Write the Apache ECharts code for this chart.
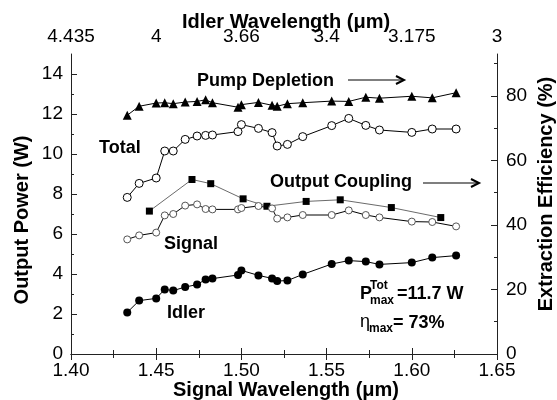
<!DOCTYPE html>
<html>
<head>
<meta charset="utf-8">
<script src="https://cdn.jsdelivr.net/npm/echarts@6/dist/echarts.min.js"></script>
<style>
  html, body { margin: 0; padding: 0; background: #fff; }
  #chart { width: 557px; height: 400px; }
</style>
</head>
<body>
<div id="chart"></div>
<script>
// Signal wavelength (um) for every measured point
const wavelength = [1.433, 1.440, 1.450, 1.455, 1.460, 1.467, 1.474, 1.479, 1.483, 1.498, 1.500,
  1.510, 1.518, 1.521, 1.527, 1.536, 1.553, 1.563, 1.573, 1.581, 1.600, 1.612, 1.626];

// Output powers (W), left axis
const totalPower  = [7.83, 8.53, 8.80, 10.15, 10.15, 10.73, 10.90, 10.93, 10.95, 11.12, 11.47,
  11.28, 11.07, 10.40, 10.48, 10.87, 11.42, 11.78, 11.43, 11.20, 11.08, 11.25, 11.25];
const signalPower = [5.73, 5.93, 6.07, 6.93, 7.00, 7.42, 7.48, 7.25, 7.23, 7.23, 7.30,
  7.40, 7.28, 6.77, 6.83, 6.95, 6.95, 7.18, 6.95, 6.83, 6.62, 6.60, 6.38];
const idlerPower  = [2.08, 2.67, 2.78, 3.23, 3.17, 3.35, 3.47, 3.73, 3.77, 3.95, 4.18,
  3.93, 3.78, 3.65, 3.67, 3.98, 4.50, 4.67, 4.62, 4.48, 4.57, 4.82, 4.92];

// Pump depletion (%), right axis
const pumpDepletion = [74.0, 76.8, 77.8, 77.9, 77.6, 78.1, 78.3, 78.8, 77.9, 76.5, 77.3,
  78.0, 77.1, 76.8, 77.6, 77.9, 78.4, 78.3, 79.6, 79.3, 79.9, 79.4, 81.0];

// Output coupling (%), right axis, measured on its own wavelengths
const couplingWavelength = [1.446, 1.471, 1.482, 1.501, 1.515, 1.538, 1.558, 1.588, 1.617];
const couplingEff = [44.3, 54.1, 52.8, 48.1, 45.8, 47.3, 47.8, 45.4, 42.3];

// Axis ticks
const signalTicks = [1.40, 1.45, 1.50, 1.55, 1.60, 1.65];
const idlerTickLabels = ['4.435', '4', '3.66', '3.4', '3.175', '3'];
const powerTicks = [0, 2, 4, 6, 8, 10, 12, 14];
const powerMinor = [1, 3, 5, 7, 9, 11, 13];
const effTicks = [0, 20, 40, 60, 80];
const effMinor = [10, 30, 50, 70, 90];

const FONT = '"Liberation Sans", Arial, sans-serif';
const INK = '#000';

const zip = (xs, ys) => xs.map((x, i) => [x, ys[i]]);

const chart = echarts.init(document.getElementById('chart'), null, { renderer: 'canvas' });

const axisLine = { show: true, lineStyle: { color: '#222', width: 1 } };
const tickLabel = { color: INK, fontFamily: FONT, fontSize: 19 };

const xBase = {
  type: 'value', min: 1.40, max: 1.65, interval: 0.05,
  axisLine,
  axisTick: { inside: true, length: 6, lineStyle: { color: '#222' } },
  minorTick: { show: true, splitNumber: 2, length: 4, lineStyle: { color: '#222' } },
  splitLine: { show: false }, minorSplitLine: { show: false },
};

const yMain = (pos, max, ticks, margin) => ({
  type: 'value', position: pos, min: 0, max,
  axisLine,
  axisTick: { inside: true, length: 6, customValues: ticks, lineStyle: { color: '#222' } },
  axisLabel: { ...tickLabel, margin, customValues: ticks },
  splitLine: { show: false },
});
const yMinor = (pos, max, ticks) => ({
  type: 'value', position: pos, min: 0, max,
  axisLine: { show: false },
  axisTick: { inside: true, length: 3, customValues: ticks, lineStyle: { color: '#222' } },
  axisLabel: { show: false },
  splitLine: { show: false },
});

const text = (str, x, y, extra = {}) => ({
  type: 'text', x, y, ...extra.el,
  style: { text: str, fill: INK, font: extra.font || `bold 18px ${FONT}`,
           align: extra.align || 'left', verticalAlign: 'middle' },
});
const arrow = (x1, x2, y) => ([
  { type: 'line', shape: { x1, y1: y, x2: x2 - 1, y2: y }, style: { stroke: INK, lineWidth: 1.2 } },
  { type: 'polyline', shape: { points: [[x2 - 8, y - 4], [x2, y], [x2 - 8, y + 4]] },
    style: { stroke: INK, lineWidth: 2, fill: null } },
]);

chart.setOption({
  animation: false,
  backgroundColor: '#fff',
  grid: { left: 71, right: 60, top: 54, bottom: 46 },
  xAxis: [
    { ...xBase, position: 'bottom',
      axisLabel: { ...tickLabel, margin: 7, formatter: (v) => v.toFixed(2) } },
    { ...xBase, position: 'top',
      axisLabel: { ...tickLabel, margin: 8, formatter: (v) => {
        const i = signalTicks.findIndex(t => Math.abs(t - v) < 1e-6);
        return i >= 0 ? idlerTickLabels[i] : '';
      } } },
  ],
  yAxis: [
    yMain('left', 15, powerTicks, 8),
    yMinor('left', 15, powerMinor),
    yMain('right', 93, effTicks, 9),
    yMinor('right', 93, effMinor),
  ],
  series: [
    { name: 'Pump Depletion', type: 'line', xAxisIndex: 0, yAxisIndex: 2,
      data: zip(wavelength, pumpDepletion),
      symbol: 'triangle', symbolSize: 9, itemStyle: { color: INK },
      lineStyle: { color: INK, width: 1 } },
    { name: 'Output Coupling', type: 'line', xAxisIndex: 0, yAxisIndex: 2,
      data: zip(couplingWavelength, couplingEff),
      symbol: 'rect', symbolSize: 7, itemStyle: { color: INK },
      lineStyle: { color: '#444', width: 0.8 } },
    { name: 'Total', type: 'line', xAxisIndex: 0, yAxisIndex: 0,
      data: zip(wavelength, totalPower),
      symbol: 'circle', symbolSize: 8,
      itemStyle: { color: '#fff', borderColor: INK, borderWidth: 1 },
      lineStyle: { color: INK, width: 1 } },
    { name: 'Signal', type: 'line', xAxisIndex: 0, yAxisIndex: 0,
      data: zip(wavelength, signalPower),
      symbol: 'circle', symbolSize: 7,
      itemStyle: { color: '#fff', borderColor: '#555', borderWidth: 1 },
      lineStyle: { color: INK, width: 1 } },
    { name: 'Idler', type: 'line', xAxisIndex: 0, yAxisIndex: 0,
      data: zip(wavelength, idlerPower),
      symbol: 'circle', symbolSize: 8, itemStyle: { color: INK },
      lineStyle: { color: INK, width: 1 } },
  ],
  graphic: [
    // axis titles
    text('Idler Wavelength (\u03bcm)', 286, 22, { align: 'center', font: `bold 20px ${FONT}` }),
    text('Signal Wavelength (\u03bcm)', 286, 390, { align: 'center', font: `bold 20px ${FONT}` }),
    text('Output Power (W)', 22, 220, { align: 'center', font: `bold 20px ${FONT}`,
      el: { rotation: Math.PI / 2 } }),
    text('Extraction Efficiency (%)', 546, 194, { align: 'center', font: `bold 20px ${FONT}`,
      el: { rotation: Math.PI / 2 } }),
    // curve labels
    text('Pump Depletion', 197, 81),
    ...arrow(348, 404, 80),
    text('Total', 99, 148),
    text('Output Coupling', 270, 182),
    ...arrow(423, 479, 183),
    text('Signal', 164, 244),
    text('Idler', 167, 313),
    // maxima
    text('P', 360, 294),
    text('Tot', 370, 286, { font: `bold 12px ${FONT}` }),
    text('max', 370, 301, { font: `bold 12px ${FONT}` }),
    text('=11.7 W', 397, 294),
    text('\u03b7', 360, 322, { font: `18px ${FONT}` }),
    text('max', 369, 329, { font: `bold 12px ${FONT}` }),
    text('= 73%', 393, 323),
  ],
});
</script>
</body>
</html>
